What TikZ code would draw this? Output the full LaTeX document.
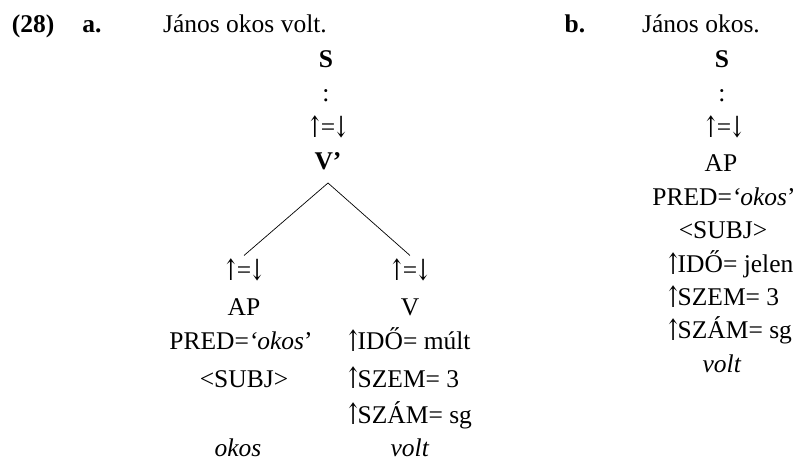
\documentclass[tikz,border=0pt]{standalone}
\usepackage{graphicx}
\usepackage{fontspec}
\setmainfont{Liberation Serif}
\newfontfamily\arrfont{DejaVu Serif}
\newcommand{\bigfont}{\fontsize{25.5pt}{30pt}\selectfont}
\newcommand{\arrglyph}[1]{\raisebox{-1.5pt}{\scalebox{0.8}[1.15]{\arrfont #1}}}
\newcommand{\ua}{\makebox[12pt]{\arrglyph{↑}}}
\newcommand{\da}{\makebox[12pt]{\arrglyph{↓}}}
\newcommand{\fa}{\makebox[10.5pt][l]{\hspace{-2.5pt}\arrglyph{↑}}}
\begin{document}
\begin{tikzpicture}[x=1pt,y=1pt,
  every node/.style={inner sep=0pt, font=\bigfont},
  t/.style={anchor=base},
  tl/.style={anchor=base west},
  bf/.style={font=\bigfont\bfseries},
  branch/.style={line width=0.7pt}]
\useasboundingbox (0,0) rectangle (799,460);
% headings
\node[bf,t] (ex) at (33,427) {(28)};
\node[bf,t] (la) at (92,427) {a.};
\node[t] (ta) at (245,427) {János okos volt.};
\node[bf,t] (lb) at (575,427) {b.};
\node[t] (tb) at (701,427) {János okos.};
% tree a
\node[bf,t] (Sa) at (326,392) {S};
\node[t] (dotsa) at (326,358) {:};
\node[t] (eqa) at (328,324) {\ua=\da};
\node[bf,t] (Vbar) at (328,290) {V’};
\node[t] (eqL) at (244,181) {\ua=\da};
\node[t] (APa) at (244,144) {AP};
\node[t] (predL) at (241,110) {PRED=\textit{‘okos}’};
\node[t] (subjL) at (244,73) {<SUBJ>};
\node[t] (okos) at (238,4) {\textit{okos}};
\node[t] (eqR) at (410,181) {\ua=\da};
\node[t] (V) at (410,144) {V};
\node[tl] (idoa) at (347,110) {\fa IDŐ= múlt};
\node[tl] (szema) at (347,73) {\fa SZEM= 3};
\node[tl] (szama) at (347,37) {\fa SZÁM= sg};
\node[t] (volta) at (410,4) {\textit{volt}};
\draw[branch] ([yshift=-13pt]Vbar.base) -- ([yshift=3pt]eqL.north);
\draw[branch] ([yshift=-13pt]Vbar.base) -- ([yshift=3pt]eqR.north);
% tree b
\node[bf,t] (Sb) at (722,392) {S};
\node[t] (dotsb) at (722,358) {:};
\node[t] (eqb) at (724,324) {\ua=\da};
\node[t] (APb) at (721,288) {AP};
\node[t] (predb) at (724,254) {PRED=\textit{‘okos}’};
\node[t] (subjb) at (723,221) {<SUBJ>};
\node[tl] (idob) at (667,187) {\fa IDŐ= jelen};
\node[tl] (szemb) at (667,154) {\fa SZEM= 3};
\node[tl] (szamb) at (667,121) {\fa SZÁM= sg};
\node[t] (voltb) at (722,88) {\textit{volt}};
\end{tikzpicture}
\end{document}
